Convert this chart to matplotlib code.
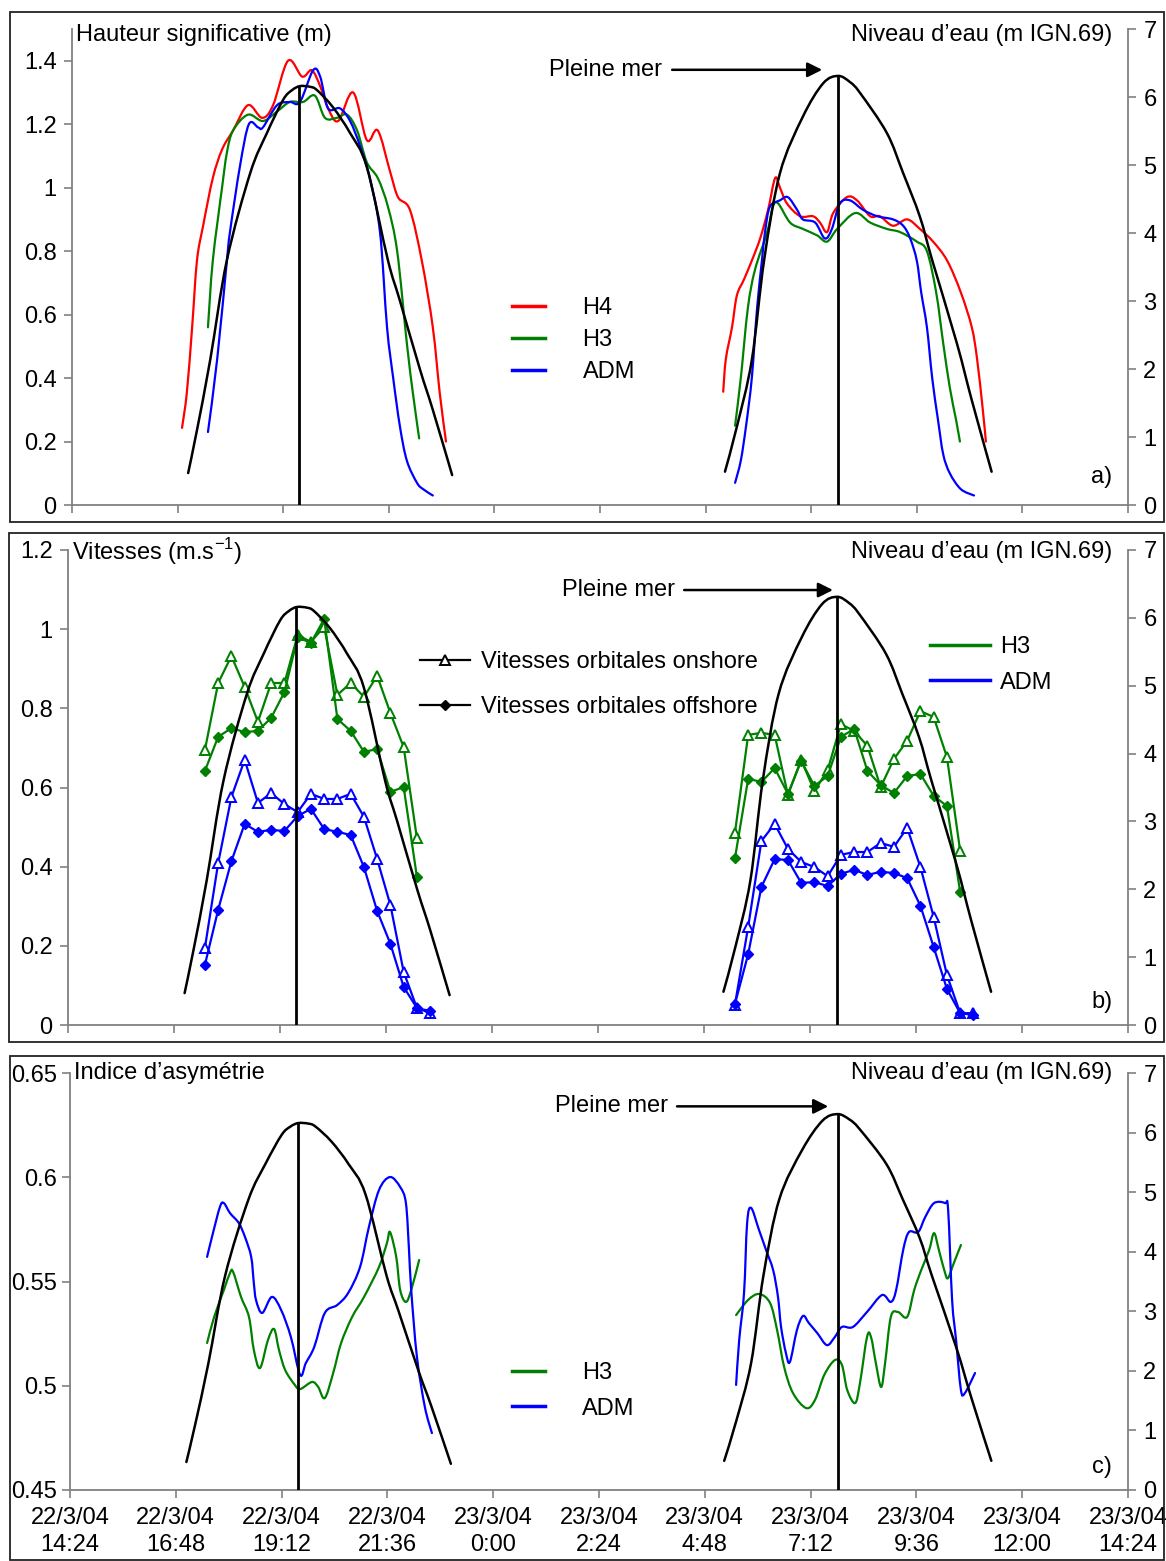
import matplotlib.pyplot as plt
from matplotlib.patches import Rectangle, PathPatch
from matplotlib.path import Path
from matplotlib.lines import Line2D
from matplotlib.ticker import FuncFormatter

plt.rcParams['font.family'] = ['Liberation Sans', 'DejaVu Sans']

# ---------------------------------------------------------------
# Données (temps en heures depuis le 22/3/04 0:00)
# ---------------------------------------------------------------

# Niveau d'eau (m IGN.69), deux marées
maree1_t = [17.04, 17.24, 17.54, 17.92, 18.45, 18.83, 19.20, 19.40, 19.58, 19.81,
            19.97, 20.33, 20.72, 21.10, 21.58, 21.85, 22.31, 22.60, 23.04]
maree1_v = [0.47, 1.10, 2.13, 3.60, 4.88, 5.47, 5.96, 6.10, 6.16, 6.15,
            6.10, 5.85, 5.47, 4.97, 3.60, 3.01, 1.99, 1.40, 0.44]
maree2_t = [29.24, 29.51, 29.85, 30.13, 30.49, 31.01, 31.47, 31.81, 32.08, 32.31,
            32.92, 33.29, 33.67, 33.95, 34.51, 34.85, 35.30]
maree2_v = [0.49, 1.15, 2.13, 3.60, 4.88, 5.71, 6.20, 6.31, 6.22, 6.06,
            5.47, 4.88, 4.24, 3.60, 2.38, 1.54, 0.49]

# Pleines mers
pm_t = [19.57, 31.82]
pm_v = [6.16, 6.31]

# a) Hauteur significative (m)
h4_1_t = [16.90, 17.01, 17.13, 17.24, 17.38, 17.60, 17.81, 18.06, 18.40, 18.72, 18.97, 19.31,
          19.63, 19.85, 20.04, 20.22, 20.45, 20.79, 21.10, 21.35, 21.63, 21.81, 22.08, 22.35,
          22.60, 22.76, 22.90]
h4_1_v = [0.243, 0.354, 0.56, 0.77, 0.88, 1.03, 1.12, 1.18, 1.26, 1.22, 1.26, 1.40,
          1.35, 1.37, 1.32, 1.25, 1.21, 1.30, 1.15, 1.18, 1.05, 0.97, 0.93, 0.77,
          0.56, 0.35, 0.20]
h3_1_t = [17.49, 17.60, 17.81, 17.92, 18.06, 18.40, 18.74, 19.06, 19.35, 19.65, 19.92,
          20.15, 20.42, 20.65, 20.88, 21.10, 21.35, 21.58, 21.79, 22.01, 22.15, 22.29]
h3_1_v = [0.56, 0.77, 1.00, 1.11, 1.18, 1.23, 1.21, 1.24, 1.27, 1.27, 1.29,
          1.22, 1.22, 1.23, 1.18, 1.08, 1.03, 0.94, 0.80, 0.51, 0.35, 0.21]
adm_1_t = [17.49, 17.70, 17.92, 17.99, 18.22, 18.42, 18.63, 18.74, 19.06, 19.35, 19.58,
           19.88, 20.04, 20.22, 20.49, 20.72, 20.95, 21.17, 21.40, 21.56, 21.70, 21.85,
           22.01, 22.24, 22.38, 22.60]
adm_1_v = [0.23, 0.46, 0.77, 0.86, 1.07, 1.20, 1.19, 1.19, 1.26, 1.27, 1.27,
           1.37, 1.35, 1.25, 1.25, 1.21, 1.13, 1.03, 0.86, 0.56, 0.40, 0.25,
           0.14, 0.07, 0.05, 0.03]
h4_2_t = [29.20, 29.26, 29.40, 29.51, 29.67, 29.85, 30.04, 30.22, 30.38, 30.49, 30.65, 30.95,
          31.24, 31.40, 31.56, 31.70, 32.01, 32.24, 32.54, 32.76, 33.06, 33.38, 33.67, 33.97,
          34.29, 34.60, 34.85, 34.97, 35.10, 35.17]
h4_2_v = [0.357, 0.46, 0.56, 0.66, 0.71, 0.77, 0.84, 0.93, 1.03, 1.00, 0.95, 0.91,
          0.91, 0.89, 0.86, 0.92, 0.97, 0.96, 0.91, 0.91, 0.88, 0.90, 0.87, 0.83,
          0.77, 0.67, 0.56, 0.46, 0.30, 0.20]
h3_2_t = [29.47, 29.60, 29.76, 29.92, 30.20, 30.33, 30.45, 30.72, 31.01, 31.33, 31.56, 31.79,
          32.20, 32.54, 32.92, 33.22, 33.60, 33.83, 34.04, 34.20, 34.35, 34.49, 34.58]
h3_2_v = [0.25, 0.40, 0.62, 0.74, 0.86, 0.94, 0.95, 0.89, 0.87, 0.85, 0.83, 0.87,
          0.92, 0.89, 0.87, 0.86, 0.83, 0.80, 0.67, 0.51, 0.37, 0.27, 0.20]
adm_2_t = [29.47, 29.60, 29.72, 29.85, 29.97, 30.08, 30.15, 30.26, 30.49, 30.67, 30.88, 31.01,
           31.29, 31.51, 31.67, 31.85, 32.08, 32.38, 32.70, 33.06, 33.29, 33.45, 33.60, 33.70,
           33.83, 33.95, 34.08, 34.20, 34.35, 34.60, 34.90]
adm_2_v = [0.07, 0.14, 0.25, 0.40, 0.62, 0.77, 0.86, 0.94, 0.96, 0.97, 0.93, 0.90,
           0.89, 0.84, 0.87, 0.95, 0.96, 0.93, 0.91, 0.90, 0.88, 0.84, 0.77, 0.67,
           0.56, 0.40, 0.27, 0.16, 0.10, 0.05, 0.03]

# b) Vitesses orbitales (m/s), une mesure toutes les 18 min
vit1_t = [17.5, 17.8, 18.1, 18.4, 18.7, 19.0, 19.3, 19.6, 19.9, 20.2, 20.5, 20.8,
          21.1, 21.4, 21.7, 22.0, 22.3, 22.6]
vit2_t = [29.5, 29.8, 30.1, 30.4, 30.7, 31.0, 31.3, 31.6, 31.9, 32.2, 32.5, 32.8,
          33.1, 33.4, 33.7, 34.0, 34.3, 34.6, 34.9]
h3_on_1 = [0.695, 0.864, 0.932, 0.854, 0.766, 0.864, 0.864, 0.985, 0.968, 1.006, 0.834,
           0.864, 0.829, 0.882, 0.788, 0.702, 0.472]
h3_off_1 = [0.642, 0.728, 0.750, 0.740, 0.743, 0.776, 0.841, 0.980, 0.965, 1.026, 0.773,
            0.743, 0.690, 0.697, 0.589, 0.601, 0.374]
adm_on_1 = [0.195, 0.409, 0.576, 0.670, 0.561, 0.586, 0.558, 0.538, 0.584, 0.571, 0.571,
            0.584, 0.526, 0.419, 0.303, 0.134, 0.043, 0.030]
adm_off_1 = [0.152, 0.291, 0.414, 0.508, 0.488, 0.493, 0.490, 0.528, 0.546, 0.495, 0.488,
             0.480, 0.399, 0.288, 0.205, 0.096, 0.043, 0.035]
h3_on_2 = [0.485, 0.733, 0.738, 0.733, 0.581, 0.670, 0.591, 0.644, 0.760, 0.743, 0.705,
           0.601, 0.672, 0.718, 0.793, 0.778, 0.677, 0.440]
h3_off_2 = [0.421, 0.622, 0.614, 0.649, 0.584, 0.667, 0.604, 0.629, 0.728, 0.748, 0.642,
            0.606, 0.586, 0.629, 0.634, 0.579, 0.553, 0.336]
adm_on_2 = [0.051, 0.248, 0.465, 0.508, 0.445, 0.412, 0.399, 0.376, 0.430, 0.437, 0.437,
            0.460, 0.450, 0.498, 0.399, 0.273, 0.126, 0.030, 0.030]
adm_off_2 = [0.053, 0.179, 0.349, 0.419, 0.417, 0.359, 0.361, 0.351, 0.382, 0.392, 0.379,
             0.387, 0.384, 0.371, 0.301, 0.197, 0.091, 0.030, 0.025]

# c) Indice d'asymétrie
asy_h3_1_t = [17.51, 17.67, 17.89, 18.03, 18.10, 18.28, 18.46, 18.57, 18.71, 18.89, 19.03,
              19.14, 19.28, 19.50, 19.62, 19.89, 20.03, 20.18, 20.37, 20.55, 20.80, 21.07,
              21.41, 21.59, 21.66, 21.80, 21.89, 22.02, 22.14, 22.32]
asy_h3_1_v = [0.5205, 0.533, 0.5459, 0.5541, 0.5546, 0.5426, 0.533, 0.5172, 0.5085, 0.5219,
              0.5272, 0.5172, 0.5076, 0.5004, 0.4984, 0.5018, 0.4994, 0.4941, 0.5061, 0.5205,
              0.533, 0.5426, 0.557, 0.5685, 0.5737, 0.5618, 0.5459, 0.5402, 0.5459, 0.5603]
asy_adm_1_t = [17.51, 17.62, 17.80, 17.89, 18.03, 18.23, 18.37, 18.51, 18.57, 18.62, 18.76,
               18.98, 19.19, 19.41, 19.62, 19.75, 19.94, 20.18, 20.46, 20.71, 20.98, 21.18,
               21.41, 21.66, 21.89, 22.02, 22.09, 22.14, 22.27, 22.45, 22.61]
asy_adm_1_v = [0.5618, 0.5713, 0.5857, 0.5876, 0.5828, 0.578, 0.5713, 0.5618, 0.5493, 0.5411,
               0.5349, 0.5426, 0.5363, 0.5234, 0.5052, 0.5109, 0.5186, 0.5349, 0.5387, 0.5445,
               0.557, 0.5761, 0.5939, 0.6001, 0.5953, 0.5876, 0.5651, 0.5459, 0.5138, 0.4898,
               0.4773]
asy_h3_2_t = [29.51, 29.78, 30.03, 30.28, 30.44, 30.60, 30.80, 31.10, 31.30, 31.51, 31.75,
              31.91, 32.03, 32.21, 32.32, 32.48, 32.57, 32.68, 32.80, 32.89, 33.02, 33.18,
              33.39, 33.55, 33.71, 33.89, 34.00, 34.11, 34.25, 34.32, 34.45, 34.61]
asy_h3_2_v = [0.5339, 0.5411, 0.544, 0.5397, 0.5267, 0.509, 0.4965, 0.4893, 0.4932, 0.5052,
              0.5123, 0.51, 0.498, 0.4917, 0.5013, 0.5234, 0.5234, 0.5109, 0.4994, 0.5109,
              0.533, 0.5354, 0.533, 0.5459, 0.5555, 0.5651, 0.5732, 0.5651, 0.5541, 0.5517,
              0.5589, 0.5675]
asy_adm_2_t = [29.51, 29.58, 29.69, 29.76, 29.85, 30.03, 30.19, 30.35, 30.46, 30.53, 30.64,
               30.73, 30.89, 31.03, 31.16, 31.35, 31.57, 31.75, 31.91, 32.16, 32.48, 32.82,
               33.02, 33.14, 33.30, 33.43, 33.64, 33.80, 34.00, 34.25, 34.32, 34.41, 34.50,
               34.61, 34.70, 34.93]
asy_adm_2_v = [0.5004, 0.5219, 0.5445, 0.578, 0.5853, 0.5747, 0.5651, 0.5555, 0.5426, 0.5282,
               0.5157, 0.5114, 0.5267, 0.5335, 0.5301, 0.5253, 0.5195, 0.5234, 0.5282, 0.5282,
               0.5354, 0.5435, 0.5402, 0.5459, 0.5651, 0.5737, 0.5737, 0.5809, 0.5876, 0.5876,
               0.5843, 0.5411, 0.5219, 0.4980, 0.4965, 0.5061]

# Axe des temps
x_ticks = [14.4, 16.8, 19.2, 21.6, 24.0, 26.4, 28.8, 31.2, 33.6, 36.0, 38.4]
x_labels = ['22/3/04\n14:24', '22/3/04\n16:48', '22/3/04\n19:12', '22/3/04\n21:36',
            '23/3/04\n0:00', '23/3/04\n2:24', '23/3/04\n4:48', '23/3/04\n7:12',
            '23/3/04\n9:36', '23/3/04\n12:00', '23/3/04\n14:24']

ROUGE, VERT, BLEU = '#ff0000', '#008000', '#0000ff'
GRIS = '#808080'
FS = 17

# ---------------------------------------------------------------
# Mise en page (en pixels de l'image)
# ---------------------------------------------------------------
W, H = 1166, 1561
fig = plt.figure(figsize=(W / 100, H / 100), dpi=100)


def boite(x0, y0, x1, y1):
    return [x0 / W, 1 - y1 / H, (x1 - x0) / W, (y1 - y0) / H]


def ligne_lissee(ax, t, v, couleur, lw=1.6):
    """Trace lissé façon Excel : courbes de Bézier passant par chaque point mesuré."""
    pts = list(zip(t, v))
    n = len(pts)
    verts, codes = [pts[0]], [Path.MOVETO]
    for i in range(n - 1):
        p0, p1 = pts[max(i - 1, 0)], pts[i]
        p2, p3 = pts[i + 1], pts[min(i + 2, n - 1)]
        c1 = (p1[0] + (p2[0] - p0[0]) / 6, p1[1] + (p2[1] - p0[1]) / 6)
        c2 = (p2[0] - (p3[0] - p1[0]) / 6, p2[1] - (p3[1] - p1[1]) / 6)
        verts += [c1, c2, p2]
        codes += [Path.CURVE4] * 3
    ax.add_patch(PathPatch(Path(verts, codes), fill=False, ec=couleur, lw=lw,
                           capstyle='round', joinstyle='round'))


# cadres autour de chaque graphique
for (x0, y0, x1, y1) in [(10, 12, 1164, 522), (9, 533, 1164, 1042), (10, 1056, 1164, 1560)]:
    b = boite(x0, y0, x1, y1)
    fig.patches.append(Rectangle((b[0], b[1]), b[2], b[3], transform=fig.transFigure,
                                 fill=False, ec='#222222', lw=1.3))


def preparer(pos, ylim, yticks, titre, lettre, y_lettre, fleche, pad_g=5):
    ax = fig.add_axes(boite(*pos))
    ax2 = ax.twinx()
    ax.set_xlim(x_ticks[0], x_ticks[-1])
    ax.set_ylim(*ylim)
    ax.set_yticks(yticks)
    ax.yaxis.set_major_formatter(FuncFormatter(lambda v, p: f'{round(v, 3):g}'))
    ax2.set_ylim(0, 7)
    ax2.set_yticks(range(8))
    ax.set_xticks(x_ticks)
    ax.set_xticklabels([])
    for s in ['top', 'right']:
        ax.spines[s].set_visible(False)
    for s in ['top', 'left', 'bottom']:
        ax2.spines[s].set_visible(False)
    for s in [ax.spines['left'], ax.spines['bottom'], ax2.spines['right']]:
        s.set_color(GRIS)
        s.set_linewidth(1.3)
    ax.tick_params(axis='y', direction='out', length=6, width=1.2, color=GRIS,
                   labelsize=FS, pad=pad_g)
    ax.tick_params(axis='x', direction='out', length=6, width=1.2, color=GRIS)
    ax2.tick_params(axis='y', direction='out', length=6, width=1.2, color=GRIS,
                    labelsize=FS, pad=5)

    # niveau d'eau et pleines mers
    ligne_lissee(ax2, maree1_t, maree1_v, 'k', lw=1.8)
    ligne_lissee(ax2, maree2_t, maree2_v, 'k', lw=1.8)
    ax2.vlines(pm_t, 0, pm_v, color='k', lw=2)

    ax.text(0.004, titre[1], titre[0], transform=ax.transAxes, fontsize=FS,
            ha='left', va='center')
    ax.text(0.985, titre[1], 'Niveau d\u2019eau (m IGN.69)', transform=ax.transAxes,
            fontsize=FS, ha='right', va='center')
    ax.text(0.985, y_lettre, lettre, transform=ax.transAxes, fontsize=FS,
            ha='right', va='center')

    # fleche "Pleine mer"
    t_texte, t0, t1, niv = fleche
    ax2.text(t_texte, niv, 'Pleine mer', fontsize=FS, ha='right', va='center')
    ax2.annotate('', xy=(t1, niv), xytext=(t0, niv),
                 arrowprops=dict(arrowstyle='-|>', color='k', lw=1.8, mutation_scale=22,
                                 shrinkA=0, shrinkB=0))
    return ax, ax2


# ---------------- a) Hauteur significative ----------------
ax, ax2 = preparer((72, 29, 1128, 505), (0, 1.5), [0, 0.2, 0.4, 0.6, 0.8, 1, 1.2, 1.4],
                   ('Hauteur significative (m)', 0.987), 'a)', 0.059,
                   (27.8, 28.04, 31.45, 6.4))
for t, v, c in [(h4_1_t, h4_1_v, ROUGE), (h3_1_t, h3_1_v, VERT), (adm_1_t, adm_1_v, BLEU),
                (h4_2_t, h4_2_v, ROUGE), (h3_2_t, h3_2_v, VERT), (adm_2_t, adm_2_v, BLEU)]:
    ligne_lissee(ax, t, v, c)
poignees = [Line2D([], [], color=c, lw=2.5) for c in (ROUGE, VERT, BLEU)]
ax.legend(poignees, ['H4', 'H3', 'ADM'], loc='upper left', bbox_to_anchor=(0.417, 0.436),
          frameon=False, borderpad=0, borderaxespad=0, fontsize=FS, handlelength=1.4,
          handletextpad=1.57, labelspacing=0.42)

# ---------------- b) Vitesses orbitales ----------------
ax, ax2 = preparer((68, 550, 1128, 1025), (0, 1.2), [0, 0.2, 0.4, 0.6, 0.8, 1, 1.2],
                   ('Vitesses (m.s$^{\\mathregular{-1}}$)', 0.996), 'b)', 0.048,
                   (28.14, 28.35, 31.72, 6.41))
for t, on, off, c in [(vit1_t, h3_on_1, h3_off_1, VERT), (vit1_t, adm_on_1, adm_off_1, BLEU),
                      (vit2_t, h3_on_2, h3_off_2, VERT), (vit2_t, adm_on_2, adm_off_2, BLEU)]:
    ax.plot(t[:len(on)], on, color=c, lw=1.6, marker='^', ms=6.5, mfc='white', mec=c, mew=1.4)
    ax.plot(t[:len(off)], off, color=c, lw=1.6, marker='D', ms=5, mfc=c, mec=c)
poignees = [Line2D([], [], color='k', lw=1.6, marker='^', ms=6.5, mfc='white', mew=1.4),
            Line2D([], [], color='k', lw=1.6, marker='D', ms=5)]
ax.legend(poignees, ['Vitesses orbitales onshore', 'Vitesses orbitales offshore'],
          loc='upper left', bbox_to_anchor=(0.332, 0.787), frameon=False, borderpad=0,
          borderaxespad=0, fontsize=FS, handlelength=2.1, handletextpad=0.47,
          labelspacing=0.97)
poignees = [Line2D([], [], color=c, lw=2.5) for c in (VERT, BLEU)]
ax2.legend(poignees, ['H3', 'ADM'], loc='upper left', bbox_to_anchor=(0.813, 0.819),
           frameon=False, borderpad=0, borderaxespad=0, fontsize=FS,
           handlelength=2.54, handletextpad=0.42, labelspacing=0.58)

# ---------------- c) Indice d'asymetrie ----------------
ax, ax2 = preparer((70, 1073, 1128, 1490), (0.45, 0.65), [0.45, 0.5, 0.55, 0.6, 0.65],
                   ('Indice d\u2019asym\u00e9trie', 1.0), 'c)', 0.055,
                   (27.97, 28.17, 31.6, 6.44), pad_g=3.5)
for t, v, c in [(asy_h3_1_t, asy_h3_1_v, VERT), (asy_adm_1_t, asy_adm_1_v, BLEU),
                (asy_h3_2_t, asy_h3_2_v, VERT), (asy_adm_2_t, asy_adm_2_v, BLEU)]:
    ligne_lissee(ax, t, v, c)
ax.set_xticklabels(x_labels, fontsize=FS, linespacing=1.3)
ax.tick_params(axis='x', pad=6)
poignees = [Line2D([], [], color=c, lw=2.5) for c in (VERT, BLEU)]
ax.legend(poignees, ['H3', 'ADM'], loc='upper left', bbox_to_anchor=(0.418, 0.307),
          frameon=False, borderpad=0, borderaxespad=0, fontsize=FS, handlelength=1.4,
          handletextpad=1.57, labelspacing=0.58)

fig.savefig('out.png', dpi=100)
